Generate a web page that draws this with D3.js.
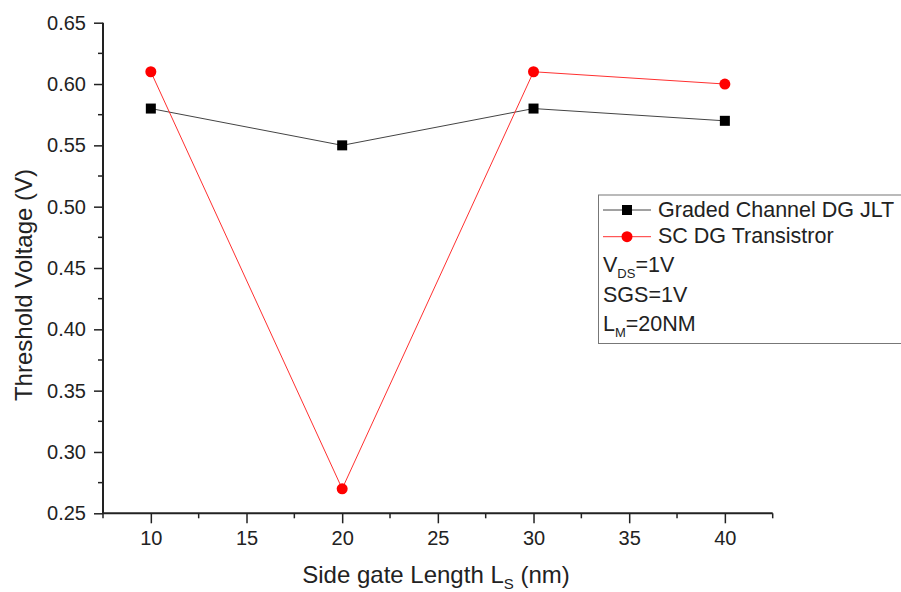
<!DOCTYPE html>
<html><head><meta charset="utf-8">
<script src="https://cdn.jsdelivr.net/npm/d3@7"></script>
<style>body{margin:0;background:#fff}svg{display:block;font-family:"Liberation Sans",Arial,sans-serif}</style>
</head><body>
<script>
const sideGateLength = [10, 20, 30, 40];
const gradedJLT = [0.58, 0.55, 0.58, 0.57];
const scTransistor = [0.61, 0.27, 0.61, 0.60];
const xTicks = [10, 15, 20, 25, 30, 35, 40];
const yTicks = [0.25, 0.30, 0.35, 0.40, 0.45, 0.50, 0.55, 0.60, 0.65];
const seriesNames = ["Graded Channel DG JLT", "SC DG Transistror"];

const W = 901, H = 592;
const svg = d3.select("body").append("svg").attr("width", W).attr("height", H);
const x = d3.scaleLinear().domain([7.5, 42.5]).range([103, 772.7]);
const y = d3.scaleLinear().domain([0.25, 0.65]).range([513.3, 22.7]);

const axisColor = "#222";
const xMinor = d3.range(7.5, 42.6, 2.5).filter(v => !xTicks.includes(v));
const yMinor = d3.range(0.275, 0.65, 0.05);
const gx = svg.append("g").attr("transform", `translate(0,${y(0.25)})`);
gx.call(d3.axisBottom(x).tickValues(xTicks).tickSize(10).tickPadding(8).tickFormat(d3.format("d")));
gx.selectAll(".minor").data(xMinor).enter().append("line")
  .attr("x1", d => x(d)).attr("x2", d => x(d)).attr("y1", 0).attr("y2", 5)
  .attr("stroke", axisColor).attr("stroke-width", 1.5);
const gy = svg.append("g").attr("transform", `translate(${x(7.5)},0)`);
gy.call(d3.axisLeft(y).tickValues(yTicks).tickSize(9).tickPadding(8).tickFormat(d3.format(".2f")));
gy.selectAll(".minor").data(yMinor).enter().append("line")
  .attr("y1", d => y(d)).attr("y2", d => y(d)).attr("x1", 0).attr("x2", -5)
  .attr("stroke", axisColor).attr("stroke-width", 1.5);
[gx, gy].forEach(g => {
  g.select(".domain").attr("stroke", axisColor).attr("stroke-width", 2);
  g.selectAll(".tick line").attr("stroke", axisColor).attr("stroke-width", 1.5);
  g.selectAll(".tick text").attr("fill", "#222").style("font-size", "20px").style("font-family", "'Liberation Sans',Arial,sans-serif");
});
gx.select(".domain").attr("d", `M${x(7.5)},0H${x(42.5)}`);
gy.select(".domain").attr("d", `M0,${y(0.25)}V${y(0.65)}`);

const line = d3.line().x(d => x(d[0])).y(d => y(d[1]));
const blackData = sideGateLength.map((v, i) => [v, gradedJLT[i]]);
const redData = sideGateLength.map((v, i) => [v, scTransistor[i]]);
svg.append("path").datum(blackData).attr("d", line).attr("fill", "none").attr("stroke", "#444").attr("stroke-width", 1);
svg.append("path").datum(redData).attr("d", line).attr("fill", "none").attr("stroke", "#ff3030").attr("stroke-width", 1);
svg.selectAll(".sq").data(blackData).enter().append("rect")
  .attr("x", d => x(d[0]) - 5).attr("y", d => y(d[1]) - 5).attr("width", 10).attr("height", 10).attr("fill", "#000");
svg.selectAll(".ci").data(redData).enter().append("circle")
  .attr("cx", d => x(d[0])).attr("cy", d => y(d[1])).attr("r", 5.5).attr("fill", "#ff0000");

svg.append("text").attr("x", 436).attr("y", 583).attr("text-anchor", "middle")
  .style("font-size", "24px").attr("fill", "#222")
  .html('Side gate Length L<tspan dy="6" font-size="15">S</tspan><tspan dy="-6"> (nm)</tspan>');
svg.append("text").attr("transform", "translate(32,285) rotate(-90)").attr("text-anchor", "middle")
  .style("font-size", "24px").attr("fill", "#222").text("Threshold Voltage (V)");

const lg = svg.append("g");
lg.append("rect").attr("x", 598.5).attr("y", 195).attr("width", 310).attr("height", 148.5)
  .attr("fill", "#fff").attr("stroke", "#777").attr("stroke-width", 1);
const legY = [210, 236.7];
lg.append("line").attr("x1", 603).attr("x2", 651).attr("y1", legY[0]).attr("y2", legY[0]).attr("stroke", "#444");
lg.append("rect").attr("x", 622).attr("y", legY[0] - 5).attr("width", 10).attr("height", 10).attr("fill", "#000");
lg.append("line").attr("x1", 603).attr("x2", 651).attr("y1", legY[1]).attr("y2", legY[1]).attr("stroke", "#ff3030");
lg.append("circle").attr("cx", 627).attr("cy", legY[1]).attr("r", 5.5).attr("fill", "#ff0000");
seriesNames.forEach((n, i) => {
  lg.append("text").attr("x", 658).attr("y", legY[i] + 6.5).style("font-size", "21.5px").attr("fill", "#222").text(n);
});
lg.append("text").attr("x", 603).attr("y", 272).style("font-size", "21.5px").attr("fill", "#222")
  .html('V<tspan dy="6" font-size="13">DS</tspan><tspan dy="-6">=1V</tspan>');
lg.append("text").attr("x", 603).attr("y", 302).style("font-size", "21.5px").attr("fill", "#222").text("SGS=1V");
lg.append("text").attr("x", 603).attr("y", 331).style("font-size", "21.5px").attr("fill", "#222")
  .html('L<tspan dy="6" font-size="13">M</tspan><tspan dy="-6">=20NM</tspan>');
</script>
</body></html>
